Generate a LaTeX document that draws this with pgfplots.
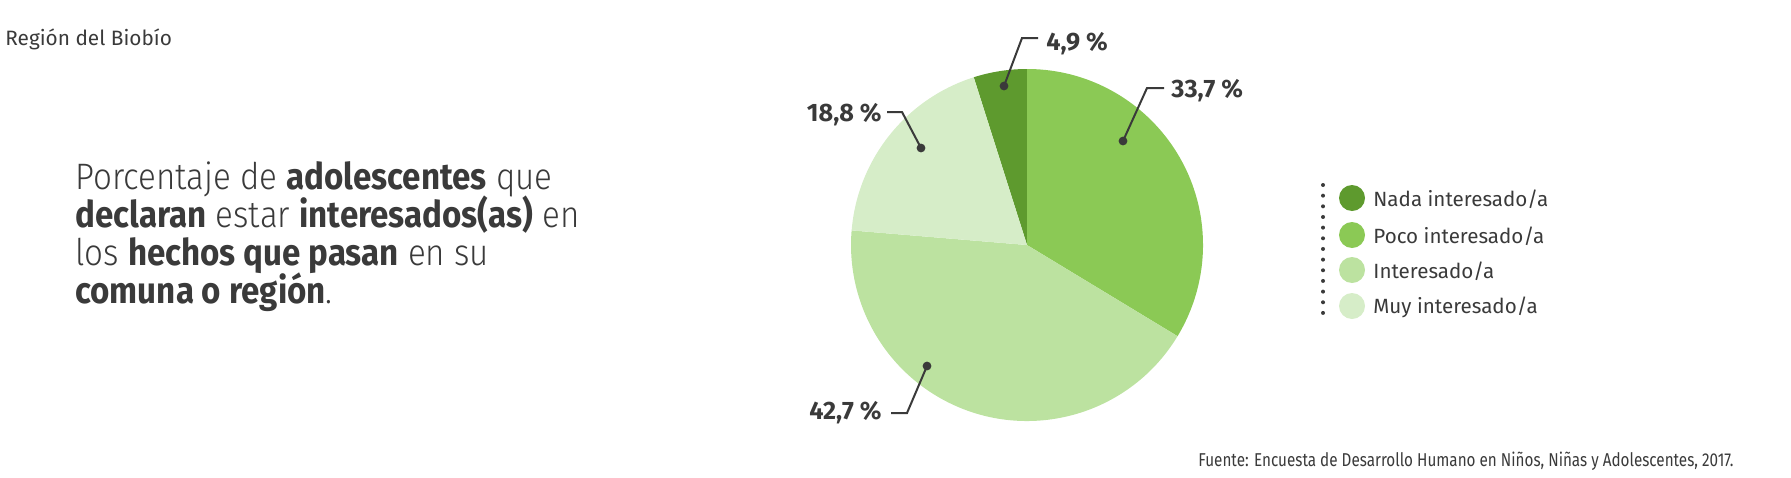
\documentclass[border=0pt]{standalone}
\usepackage{pgfplots}
\pgfplotsset{compat=1.18}
\usepackage{fontspec}
\setmainfont{Fira Sans}
\newfontfamily\lightfont{Fira Sans Light}[FakeStretch=0.9]
\newfontfamily\bigbold{Fira Sans}[FakeStretch=0.9]
\newfontfamily\narrowfont{Fira Sans}[FakeStretch=0.82]
\newcommand\B[1]{{\bigbold\bfseries #1}}
\definecolor{nada}{HTML}{5E9A2E}
\definecolor{poco}{HTML}{8BC955}
\definecolor{inter}{HTML}{BCE2A0}
\definecolor{muy}{HTML}{D6EDC8}
\definecolor{txt}{HTML}{3A3A3A}
% data (percent)
\def\vNada{4.9}\def\vPoco{33.7}\def\vInter{42.7}\def\vMuy{18.8}
\pgfmathsetmacro\tot{\vNada+\vPoco+\vInter+\vMuy}
\pgfmathsetmacro\aA{90+\vNada*360/\tot}
\pgfmathsetmacro\aB{90}
\pgfmathsetmacro\aC{90-\vPoco*360/\tot}
\pgfmathsetmacro\aD{\aC-\vInter*360/\tot}
\pgfmathsetmacro\aE{\aD-\vMuy*360/\tot}
\begin{document}
\begin{tikzpicture}[font=\color{txt}]
\begin{axis}[x=0.5pt,y=0.5pt,xmin=0,xmax=1791,ymin=0,ymax=477,y dir=reverse,
  hide axis,scale only axis,clip=false]
\path (axis cs:0,0) rectangle (axis cs:1791,477);
% pie
\fill[nada]  (axis cs:1027,245) -- ++(\aA:88pt) arc[start angle=\aA, end angle=\aB, radius=88pt] -- cycle;
\fill[poco]  (axis cs:1027,245) -- ++(\aB:88pt) arc[start angle=\aB, end angle=\aC, radius=88pt] -- cycle;
\fill[inter] (axis cs:1027,245) -- ++(\aC:88pt) arc[start angle=\aC, end angle=\aD, radius=88pt] -- cycle;
\fill[muy]   (axis cs:1027,245) -- ++(\aD:88pt) arc[start angle=\aD, end angle=\aE, radius=88pt] -- cycle;
% leaders
\draw[txt,line width=1pt] (axis cs:1004,86) -- (axis cs:1022,38) -- (axis cs:1038,38);
\fill[txt] (axis cs:1004,86) circle[radius=2.2pt];
\node[anchor=base west,font=\bfseries\fontsize{12.6}{14}\selectfont\color{txt},inner sep=0pt] at (axis cs:1046,50) {4,9 \%};
\draw[txt,line width=1pt] (axis cs:1123,141) -- (axis cs:1147,88) -- (axis cs:1164,88);
\fill[txt] (axis cs:1123,141) circle[radius=2.2pt];
\node[anchor=base west,font=\bfseries\fontsize{12.6}{14}\selectfont\color{txt},inner sep=0pt] at (axis cs:1171,97) {33,7 \%};
\draw[txt,line width=1pt] (axis cs:887,112) -- (axis cs:902,112) -- (axis cs:921,148);
\fill[txt] (axis cs:921,148) circle[radius=2.2pt];
\node[anchor=base east,font=\bfseries\fontsize{12.6}{14}\selectfont\color{txt},inner sep=0pt] at (axis cs:882,121) {18,8 \%};
\draw[txt,line width=1pt] (axis cs:891,413) -- (axis cs:907,413) -- (axis cs:927,366);
\fill[txt] (axis cs:927,366) circle[radius=2.2pt];
\node[anchor=base east,font=\bfseries\fontsize{12.6}{14}\selectfont\color{txt},inner sep=0pt] at (axis cs:882,419) {42,7 \%};
% legend
\draw[txt,line width=2pt,line cap=round,dash pattern=on 0pt off 5.33pt] (axis cs:1323,185) -- (axis cs:1323,313);
\fill[nada]  (axis cs:1352,198) circle[radius=6.5pt];
\fill[poco]  (axis cs:1352,235) circle[radius=6.5pt];
\fill[inter] (axis cs:1352,270) circle[radius=6.5pt];
\fill[muy]   (axis cs:1352,306) circle[radius=6.5pt];
\node[anchor=base west,font=\fontsize{10.3}{12}\selectfont\color{txt},inner sep=0pt] at (axis cs:1373,206) {Nada interesado/a};
\node[anchor=base west,font=\fontsize{10.3}{12}\selectfont\color{txt},inner sep=0pt] at (axis cs:1373,243) {Poco interesado/a};
\node[anchor=base west,font=\fontsize{10.3}{12}\selectfont\color{txt},inner sep=0pt] at (axis cs:1373,278) {Interesado/a};
\node[anchor=base west,font=\fontsize{10.3}{12}\selectfont\color{txt},inner sep=0pt] at (axis cs:1373,313) {Muy interesado/a};
% texts
\node[anchor=base west,font=\fontsize{10.4}{12}\selectfont\color{txt},inner sep=0pt] at (axis cs:5,45) {Región del Biobío};
\node[anchor=base west,font=\lightfont\fontsize{18.4}{19}\selectfont\color{txt},inner sep=0pt] at (axis cs:75,189) {Porcentaje de \B{adolescentes} que};
\node[anchor=base west,font=\lightfont\fontsize{18.4}{19}\selectfont\color{txt},inner sep=0pt] at (axis cs:75,227) {\B{declaran} estar \B{interesados(as)} en};
\node[anchor=base west,font=\lightfont\fontsize{18.4}{19}\selectfont\color{txt},inner sep=0pt] at (axis cs:75,265) {los \B{hechos que pasan} en su};
\node[anchor=base west,font=\lightfont\fontsize{18.4}{19}\selectfont\color{txt},inner sep=0pt] at (axis cs:75,303) {\B{comuna o región}.};
\node[anchor=base west,font=\narrowfont\fontsize{9.3}{12}\selectfont\color{txt},inner sep=0pt] at (axis cs:1198,466) {Fuente: Encuesta de Desarrollo Humano en Niños, Niñas y Adolescentes, 2017.};
\end{axis}
\end{tikzpicture}
\end{document}
